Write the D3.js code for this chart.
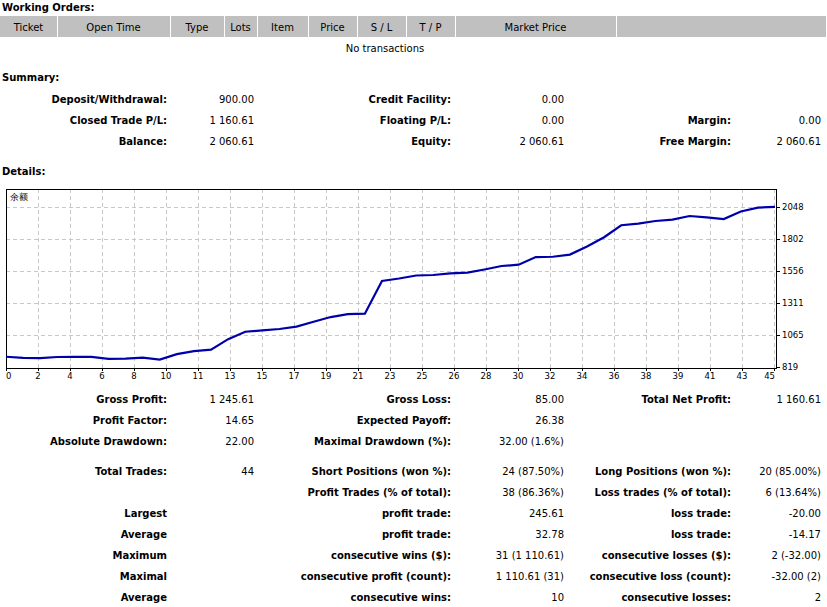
<!DOCTYPE html>
<html><head><meta charset="utf-8">
<script src="https://cdn.jsdelivr.net/npm/d3@7"></script>
<style>
body{margin:0;background:#fff}
svg{display:block}
text{font-family:"DejaVu Sans",sans-serif;fill:#000}
</style>
</head><body>
<svg id="c" width="827" height="607"></svg>
<script>
// ---------- data ----------
const seriesName = "余额";
const balance = [900, 892, 890, 898, 900, 899, 884, 886, 893, 878,
                 920, 943, 955, 1035, 1092, 1103, 1113, 1132, 1169, 1205,
                 1228, 1231, 1482, 1501, 1524, 1528, 1540, 1546, 1570, 1597,
                 1607, 1666, 1668, 1685, 1747, 1818, 1910, 1923, 1943, 1954,
                 1981, 1971, 1958, 2016, 2046, 2052];
const xTickLabels = ["0","2","4","6","8","10","11","13","15","17","19","21","23",
                     "25","26","28","30","32","34","36","38","39","41","43","45"];
const yTickValues = [819, 1065, 1311, 1556, 1802, 2048];

const orderColumns = ["Ticket","Open Time","Type","Lots","Item","Price","S / L","T / P","Market Price",""];
const noOrdersText = "No transactions";
const sectionTitles = ["Working Orders:", "Summary:", "Details:"];

const summaryRows = [
  ["Deposit/Withdrawal:","900.00","Credit Facility:","0.00","",""],
  ["Closed Trade P/L:","1 160.61","Floating P/L:","0.00","Margin:","0.00"],
  ["Balance:","2 060.61","Equity:","2 060.61","Free Margin:","2 060.61"]
];
const statsRows = [
  ["Gross Profit:","1 245.61","Gross Loss:","85.00","Total Net Profit:","1 160.61"],
  ["Profit Factor:","14.65","Expected Payoff:","26.38","",""],
  ["Absolute Drawdown:","22.00","Maximal Drawdown (%):","32.00 (1.6%)","",""],
  ["Total Trades:","44","Short Positions (won %):","24 (87.50%)","Long Positions (won %):","20 (85.00%)"],
  ["","","Profit Trades (% of total):","38 (86.36%)","Loss trades (% of total):","6 (13.64%)"],
  ["Largest","","profit trade:","245.61","loss trade:","-20.00"],
  ["Average","","profit trade:","32.78","loss trade:","-14.17"],
  ["Maximum","","consecutive wins ($):","31 (1 110.61)","consecutive losses ($):","2 (-32.00)"],
  ["Maximal","","consecutive profit (count):","1 110.61 (31)","consecutive loss (count):","-32.00 (2)"],
  ["Average","","consecutive wins:","10","consecutive losses:","2"]
];

// ---------- layout ----------
const svg = d3.select("#c");
svg.append("rect").attr("width",827).attr("height",607).attr("fill","#fff");

const FS = 10;
const colEdges = [0,57,170,224,257,308,357,406,455,616,826];
const colRight = [167,254,451,564,731,821];

// section titles
const titleY = [7, 77, 171];
svg.selectAll("text.sec").data(sectionTitles).join("text").attr("class","sec")
  .attr("x",2).attr("y",(d,i)=>titleY[i]).attr("dy","0.36em")
  .attr("font-size",FS).attr("font-weight","bold").text(d=>d);

// header table
const hdr = svg.append("g");
hdr.append("rect").attr("x",0).attr("y",16).attr("width",826).attr("height",21).attr("fill","#c0c0c0");
orderColumns.forEach((c,i)=>{
  if(i>0) hdr.append("rect").attr("x",colEdges[i]).attr("y",16).attr("width",1).attr("height",21).attr("fill","#fff");
  hdr.append("text").attr("x",(colEdges[i]+colEdges[i+1])/2).attr("y",27).attr("dy","0.36em")
    .attr("text-anchor","middle").attr("font-size",FS).text(c);
});
svg.append("text").attr("x",385).attr("y",48).attr("dy","0.36em").attr("text-anchor","middle")
  .attr("font-size",FS).text(noOrdersText);

function drawRows(rows, ys){
  rows.forEach((r,ri)=>{
    r.forEach((t,ci)=>{
      if(!t) return;
      svg.append("text").attr("x",colRight[ci]).attr("y",ys[ri]).attr("dy","0.36em")
        .attr("text-anchor","end").attr("font-size",FS)
        .attr("font-weight", ci%2===0 ? "bold" : "normal").text(t);
    });
  });
}
drawRows(summaryRows,[99,120,141]);
drawRows(statsRows,[399,420,441,471,492,513,534,555,576,597]);

// ---------- chart ----------
const L=6, R=776, T=189, B=368;
const x = d3.scaleLinear().domain([0, balance.length-1]).range([L, R-1]);
const y = d3.scaleLinear().domain([yTickValues[0], yTickValues[yTickValues.length-1]]).range([367.3, 207.3]);
const xg = d3.scaleLinear().domain([0, xTickLabels.length-1]).range([L, R-2]);

const g = svg.append("g");
// grid
g.selectAll("line.hg").data(yTickValues.slice(1)).join("line").attr("class","hg")
  .attr("x1",L).attr("x2",R).attr("y1",d=>Math.round(y(d))+0.5).attr("y2",d=>Math.round(y(d))+0.5)
  .attr("stroke","#c8c8c8").attr("stroke-dasharray","4,3");
g.selectAll("line.vg").data(xTickLabels.slice(1)).join("line").attr("class","vg")
  .attr("x1",(d,i)=>Math.round(xg(i+1))+0.5).attr("x2",(d,i)=>Math.round(xg(i+1))+0.5)
  .attr("y1",T).attr("y2",B).attr("stroke","#c8c8c8").attr("stroke-dasharray","4,3");

// frame
g.append("rect").attr("x",L+0.5).attr("y",T+0.5).attr("width",R-L).attr("height",B-T)
  .attr("fill","none").attr("stroke","#000");

// y ticks & labels (right)
g.selectAll("line.yt").data(yTickValues).join("line").attr("class","yt")
  .attr("x1",R).attr("x2",R+4).attr("y1",d=>Math.round(y(d))+0.5).attr("y2",d=>Math.round(y(d))+0.5)
  .attr("stroke","#000");
g.selectAll("text.yl").data(yTickValues).join("text").attr("class","yl")
  .attr("x",R+6).attr("y",d=>y(d)).attr("dy","0.36em").attr("font-size",8.5).text(d=>d);

// x ticks & labels
g.selectAll("line.xt").data(xTickLabels).join("line").attr("class","xt")
  .attr("x1",(d,i)=>Math.round(xg(i))+0.5).attr("x2",(d,i)=>Math.round(xg(i))+0.5)
  .attr("y1",B).attr("y2",B+3).attr("stroke","#000");
g.selectAll("text.xl").data(xTickLabels).join("text").attr("class","xl")
  .attr("x",(d,i)=> i===0 ? xg(i) : (i===xTickLabels.length-1 ? xg(i)+1 : xg(i)))
  .attr("y",376).attr("dy","0.36em").attr("font-size",8.5)
  .attr("text-anchor",(d,i)=> i===0 ? "start" : (i===xTickLabels.length-1 ? "end" : "middle"))
  .text(d=>d);

// series label
g.append("text").attr("x",10).attr("y",197).attr("dy","0.36em")
  .attr("font-family","'Noto Sans CJK SC',sans-serif").attr("font-size",9).text(seriesName);

// balance line
g.append("path").datum(balance)
  .attr("d", d3.line().x((d,i)=>x(i)).y(d=>y(d)))
  .attr("fill","none").attr("stroke","#0000aa").attr("stroke-width",2.2);
</script>
</body></html>
